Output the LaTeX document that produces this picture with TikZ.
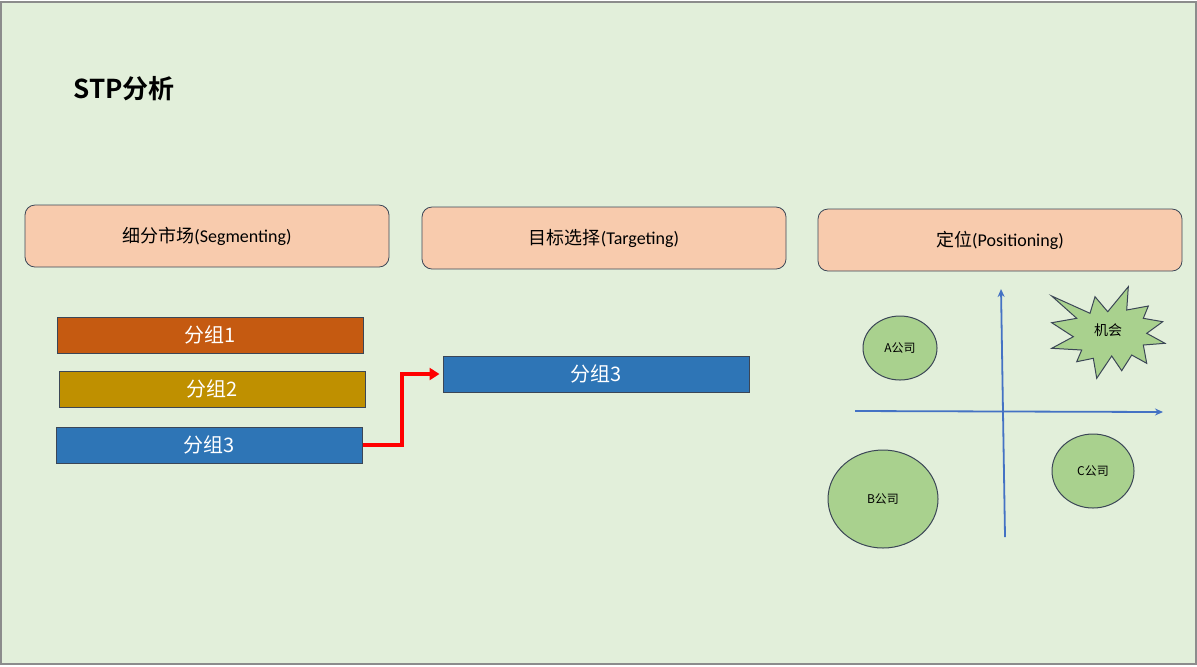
\documentclass[tikz,border=0pt]{standalone}
\usepackage{fontspec}
\setmainfont{Carlito}
\newfontfamily\cjk{Noto Sans CJK SC}[BoldFont=Noto Sans CJK SC Bold]
\usepackage{xcolor}
\usepackage{tikz}
\usetikzlibrary{arrows.meta,positioning,calc,shapes.geometric}
\definecolor{stpbg}{HTML}{E2EFDA}
\definecolor{stpframe}{HTML}{8C8C8C}
\definecolor{stppeach}{HTML}{F8CBAD}
\definecolor{stporange}{HTML}{C55A11}
\definecolor{stpgold}{HTML}{BF9000}
\definecolor{stpblue}{HTML}{2E75B6}
\definecolor{stpaxis}{HTML}{4472C4}
\definecolor{stpgreen}{HTML}{A9D18E}
\definecolor{stpedge}{HTML}{3B4656}
\tikzset{
  headbox/.style={draw=stpedge, rounded corners=5pt, fill=stppeach, minimum width=182pt, minimum height=31pt, font=\fontsize{9}{11}\selectfont},
  groupbar/.style={draw=stpedge, line width=0.5pt, minimum width=153pt, minimum height=18pt, text=white, font=\fontsize{10}{12}\selectfont\cjk},
  company/.style={draw=stpedge, ellipse, fill=stpgreen, line width=0.5pt, inner sep=0pt, font=\fontsize{6}{7}\selectfont\cjk},
  axis/.style={stpaxis, line width=0.9pt, -{Stealth[length=4pt,width=3.5pt]}},
  line/.style={red, line width=2pt, -{Triangle[length=5pt,width=6pt]}}
}

\begin{document}
\begin{tikzpicture}[x=0.5pt,y=-0.5pt]
  \useasboundingbox (0,0) rectangle (1197,666);
  \fill[stpbg] (1,2) rectangle (1196,664);
  \draw[stpframe, line width=0.6pt] (1,2) rectangle (1196,664);

  \node[anchor=west, inner sep=0pt, font=\fontsize{13}{15}\selectfont\cjk\bfseries] (title) at (73,89) {STP分析};

  % Header row
  \node[headbox] (seg) at (207,236) {{\cjk 细分市场}(Segmenting)};
  \node[headbox] (tgt) at (604,238) {{\cjk 目标选择}(Targeting)};
  \node[headbox] (pos) at (1000,240) {{\cjk 定位}(Positioning)};

  % Segments and target
  \node[groupbar, fill=stporange] (g1) at (210,335) {分组1};
  \node[groupbar, fill=stpgold] (g2) at (212,389) {分组2};
  \node[groupbar, fill=stpblue] (g3) at (209,445) {分组3};
  \node[groupbar, fill=stpblue] (t3) at (596,374) {分组3};
  \draw[line] (g3.east) -- ++(39,0) |- ([xshift=-1.5pt]t3.west);

  % Positioning map
  \coordinate (xl) at (855,411);
  \coordinate (xr) at (1163,412);
  \coordinate (yb) at (1005,537);
  \coordinate (yt) at (1001,289);
  \draw[axis] (xl) -- (xr);
  \draw[axis] (yb) -- (yt);
  \node[company, minimum width=37pt, minimum height=32pt] (compA) at (900,348) {A公司};
  \node[company, minimum width=55pt, minimum height=49pt] (compB) at (883,499) {B公司};
  \node[company, minimum width=41pt, minimum height=37pt] (compC) at (1093,471) {C公司};
  \filldraw[fill=stpgreen, draw=stpedge, line width=0.5pt]
    (1051.7,296) -- (1090,313.3) -- (1095,296.7) -- (1107.7,311.7) -- (1128.3,286.7)
    -- (1126.7,310) -- (1148.3,306) -- (1143.3,318.3) -- (1162.7,321.7) -- (1146.7,333.3)
    -- (1165,343.3) -- (1143.3,345) -- (1146.7,363.3) -- (1131.7,355) -- (1121.7,370.7)
    -- (1111.7,356) -- (1096.7,378.3) -- (1093.3,358.3) -- (1076.7,361.7) -- (1081.7,350)
    -- (1051.7,348.3) -- (1073.3,336.7) -- (1051.7,322.7) -- (1076.7,318.3) -- cycle;
  \node[font=\fontsize{7}{8}\selectfont\cjk] (chance) at (1108,330) {机会};
\end{tikzpicture}
\end{document}
